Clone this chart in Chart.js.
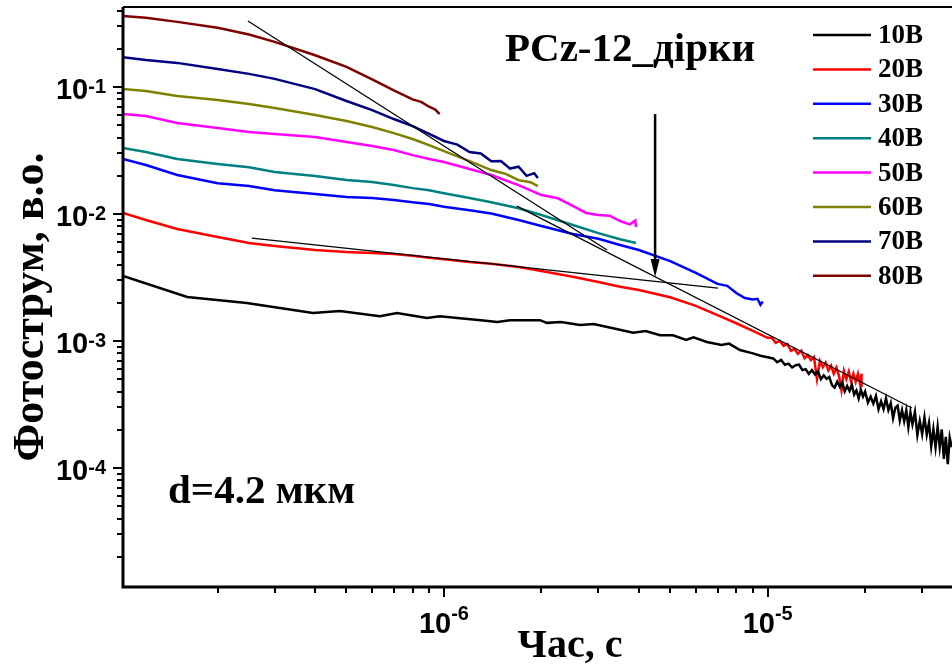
<!DOCTYPE html>
<html>
<head>
<meta charset="utf-8">
<script src="https://cdn.jsdelivr.net/npm/chart.js@4.4.1/dist/chart.umd.min.js"></script>
<style>
body{margin:0;background:#fff;}
#wrap{width:952px;height:668px;}
</style>
</head>
<body>
<div id="wrap"><canvas id="photoChart" width="952" height="668"></canvas></div>
<script>

// Photocurrent transients, time (s) vs photocurrent (a.u.)

const labels = ["10В","20В","30В","40В","50В","60В","70В","80В"];
const colors = ["#000000","#ff0000","#0000ff","#008080","#ff00ff","#808000","#000080","#800000"];

const t10 = [1.02e-7,1.61e-7,2.46e-7,3.94e-7,4.77e-7,6.34e-7,7.16e-7,8.86e-7,9.72e-7,1.1e-6,1.3e-6,1.46e-6,1.6e-6,1.98e-6,2.08e-6,2.3e-6,2.63e-6,2.9e-6,3.33e-6,3.84e-6,4.2e-6,4.65e-6,5.1e-6,5.6e-6,5.9e-6,6.49e-6,7.2e-6,7.6e-6,8.21e-6,9.0e-6,9.5e-6,
1.04e-5,1.07e-5,1.10e-5,1.13e-5,1.16e-5,1.19e-5,1.22e-5,1.25e-5,1.28e-5,1.31e-5,
1.34e-5,1.37e-5,1.40e-5,1.43e-5,1.46e-5,1.49e-5,1.52e-5,1.55e-5,1.58e-5,1.61e-5,1.64e-5,1.67e-5,
1.70e-5,1.73e-5,1.76e-5,1.79e-5,1.82e-5,1.85e-5,1.88e-5,1.91e-5,1.94e-5,1.97e-5,2.00e-5,2.04e-5,2.08e-5,2.12e-5,
2.16e-5,2.20e-5,2.24e-5,2.28e-5,2.32e-5,2.36e-5,2.40e-5,2.44e-5,2.48e-5,2.52e-5,2.56e-5,2.60e-5,2.64e-5,2.68e-5,
2.72e-5,2.76e-5,2.80e-5,2.85e-5,2.90e-5,2.95e-5,3.00e-5,3.05e-5,3.10e-5,3.15e-5,3.20e-5,3.25e-5,3.30e-5,3.35e-5,3.40e-5,
3.45e-5,3.50e-5,3.55e-5,3.60e-5,3.65e-5,3.70e-5];
const i10 = [0.00325,0.00222,0.00199,0.00166,0.00172,0.00157,0.00166,0.00152,0.00157,0.00152,0.00146,0.00141,0.00146,0.00146,0.00139,0.00141,0.00134,0.00136,0.00126,0.00116,0.00120,0.00111,0.00111,0.00102,0.00107,0.000982,0.000930,0.000955,0.000849,0.000800,0.000765,
7.29e-4,6.81e-4,7.09e-4,6.50e-4,6.64e-4,6.19e-4,6.46e-4,6.51e-4,5.90e-4,6.01e-4,
5.51e-4,5.91e-4,5.45e-4,5.77e-4,5.00e-4,5.36e-4,5.03e-4,5.21e-4,4.50e-4,4.30e-4,4.79e-4,4.37e-4,
4.71e-4,4.01e-4,4.42e-4,4.05e-4,4.51e-4,3.79e-4,4.08e-4,3.53e-4,4.12e-4,3.66e-4,4.00e-4,3.28e-4,3.64e-4,3.21e-4,
3.69e-4,2.90e-4,3.35e-4,2.91e-4,3.53e-4,2.86e-4,3.24e-4,2.47e-4,2.99e-4,3.10e-4,2.37e-4,2.85e-4,2.34e-4,2.84e-4,
2.10e-4,2.74e-4,2.21e-4,2.76e-4,1.82e-4,2.35e-4,1.85e-4,2.51e-4,1.83e-4,2.27e-4,1.49e-4,2.02e-4,1.46e-4,2.10e-4,1.46e-4,
2.01e-4,1.18e-4,1.76e-4,1.07e-4,1.73e-4,1.46e-4];

const t20 = [1.02e-7,1.2e-7,1.5e-7,2e-7,2.5e-7,3e-7,4e-7,5e-7,6e-7,7e-7,8e-7,9e-7,1e-6,1.2e-6,1.4e-6,1.7e-6,2e-6,2.5e-6,3e-6,3.5e-6,4e-6,5e-6,6e-6,7e-6,8e-6,9e-6,1e-5,
1.03e-5,1.06e-5,1.09e-5,1.12e-5,1.15e-5,1.18e-5,1.21e-5,1.24e-5,1.27e-5,1.30e-5,1.33e-5,1.36e-5,1.39e-5,
1.42e-5,1.45e-5,1.48e-5,1.51e-5,1.54e-5,1.57e-5,1.60e-5,1.63e-5,1.66e-5,1.69e-5,
1.72e-5,1.75e-5,1.78e-5,1.81e-5,1.84e-5,1.87e-5,1.90e-5,1.93e-5,1.95e-5,1.95e-5];
const i20 = [0.0102,0.00897,0.00762,0.00659,0.00591,0.00560,0.00521,0.00502,0.00493,0.00484,0.00470,0.00453,0.00440,0.00419,0.00406,0.00383,0.00356,0.00321,0.00292,0.00268,0.00252,0.00221,0.00189,0.00160,0.00138,0.00120,0.00106,
1.059e-3,9.67e-4,1.005e-3,9.15e-4,9.48e-4,8.36e-4,8.66e-4,7.92e-4,8.41e-4,7.32e-4,7.76e-4,7.08e-4,7.47e-4,
5.03e-4,6.97e-4,6.23e-4,6.77e-4,5.87e-4,6.38e-4,5.52e-4,6.17e-4,5.34e-4,4.10e-4,
5.80e-4,5.01e-4,5.74e-4,4.81e-4,5.53e-4,4.77e-4,5.52e-4,4.57e-4,5.52e-4,4.34e-4];

const t30 = [1.02e-7,1.2e-7,1.5e-7,2e-7,2.5e-7,3e-7,4e-7,5e-7,6e-7,7e-7,8e-7,9e-7,1e-6,1.2e-6,1.4e-6,1.7e-6,2e-6,2.5e-6,3e-6,3.5e-6,4e-6,5e-6,6e-6,7e-6,7.5e-6,8e-6,8.5e-6,9e-6,9.3e-6,9.5e-6,9.65e-6];
const i30 = [0.0271,0.0243,0.0203,0.0175,0.0166,0.0154,0.0144,0.0136,0.0134,0.0129,0.0124,0.0120,0.0114,0.0107,0.0101,0.00897,0.00805,0.00697,0.00638,0.00570,0.00521,0.00426,0.00344,0.00282,0.00272,0.00239,0.00218,0.00212,0.00215,0.00193,0.00205];

const t40 = [1.02e-7,1.2e-7,1.5e-7,2e-7,2.5e-7,3e-7,4e-7,5e-7,6e-7,7e-7,8e-7,9e-7,1e-6,1.2e-6,1.4e-6,1.7e-6,2e-6,2.5e-6,3e-6,3.5e-6,3.92e-6];
const i40 = [0.0331,0.0308,0.0271,0.0248,0.0234,0.0214,0.0199,0.0185,0.0179,0.0169,0.0160,0.0154,0.0146,0.0134,0.0124,0.0111,0.00982,0.00819,0.00708,0.00634,0.00591];

const t50 = [1.02e-7,1.2e-7,1.5e-7,2e-7,2.5e-7,3e-7,4e-7,5e-7,6e-7,7e-7,8e-7,9e-7,1e-6,1.2e-6,1.4e-6,1.7e-6,2e-6,2.25e-6,2.5e-6,2.75e-6,3e-6,3.25e-6,3.5e-6,3.75e-6,3.9e-6,3.92e-6];
const i50 = [0.0613,0.0591,0.0521,0.0476,0.0443,0.0427,0.0404,0.0369,0.0343,0.0319,0.0291,0.0271,0.0257,0.0226,0.0203,0.0169,0.0141,0.0133,0.0116,0.0102,0.00982,0.0097,0.00881,0.0083,0.0089,0.0079];

const t60 = [1.02e-7,1.2e-7,1.5e-7,2e-7,2.5e-7,3e-7,4e-7,5e-7,6e-7,7e-7,8e-7,9e-7,1e-6,1.2e-6,1.4e-6,1.55e-6,1.7e-6,1.85e-6,1.95e-6];
const i60 = [0.0965,0.0931,0.0850,0.0791,0.0735,0.0684,0.0602,0.0540,0.0484,0.0434,0.0390,0.0349,0.0313,0.0261,0.0222,0.0207,0.0185,0.0178,0.0166];

const t70 = [1.02e-7,1.2e-7,1.5e-7,2e-7,2.5e-7,3e-7,4e-7,5e-7,6e-7,7e-7,8e-7,9e-7,1e-6,1.1e-6,1.2e-6,1.3e-6,1.4e-6,1.5e-6,1.6e-6,1.7e-6,1.8e-6,1.9e-6,1.95e-6];
const i70 = [0.172,0.163,0.155,0.139,0.127,0.116,0.0964,0.0776,0.0659,0.0560,0.0493,0.0427,0.0376,0.0352,0.0308,0.0300,0.0261,0.0262,0.0228,0.0236,0.0200,0.0210,0.0192];

const t80 = [1.02e-7,1.2e-7,1.5e-7,2e-7,2.5e-7,3e-7,4e-7,5e-7,6e-7,7e-7,8e-7,8.5e-7,9e-7,9.4e-7,9.7e-7];
const i80 = [0.362,0.351,0.326,0.293,0.259,0.227,0.178,0.144,0.115,0.094,0.080,0.0765,0.070,0.0665,0.0613];

// straight-line fits (two end points each)
const fitA_t = [2.48e-7,3.19e-6], fitA_i = [0.331,0.00521];
const fitB_t = [1.68e-6,2.79e-5], fitB_i = [0.01155,0.000297];
const fitC_t = [2.55e-7,7.02e-6], fitC_i = [0.00647,0.00261];

// arrow marking the transit time
const arrowT = 4.49e-6;
const arrowI = [0.0613,0.00319];

const xMin = 1.02e-7, xMax = 3.71e-5;
const yMin = 1.156e-5, yMax = 0.427;

const times = [t10,t20,t30,t40,t50,t60,t70,t80];
const currents = [i10,i20,i30,i40,i50,i60,i70,i80];

function pts(t,v){
  return t.map((x,k)=>({x:x,y:v[k]}));
}

const datasets = [];

// fits drawn on top of the curves
[[fitA_t,fitA_i],[fitB_t,fitB_i],[fitC_t,fitC_i]].forEach(f=>{
  datasets.push({
    label:"fit",
    data:pts(f[0],f[1]),
    borderColor:"#000",
    borderWidth:1.3,
    pointRadius:0,
    showLine:true,
    order:0
  });
});

for(let k=0;k<labels.length;k++){
  datasets.push({
    label:labels[k],
    data:pts(times[k],currents[k]),
    borderColor:colors[k],
    borderWidth:2.5,
    pointRadius:0,
    showLine:true,
    order:1+k
  });
}

const serif = '"Liberation Serif","Times New Roman",serif';
const sans = '"Liberation Sans",Arial,sans-serif';

// axes, power-of-ten labels, legend, arrow and captions
const decor = {
  id:"decor",
  afterDraw(chart){
    const ctx = chart.ctx;
    const xs = chart.scales.x, ys = chart.scales.y;
    const a = chart.chartArea;
    ctx.save();
    ctx.fillStyle = "#000";
    ctx.strokeStyle = "#000";

    // frame
    ctx.lineWidth = 3;
    ctx.beginPath();
    ctx.moveTo(a.left, a.top);
    ctx.lineTo(a.left, a.bottom);
    ctx.lineTo(a.right, a.bottom);
    ctx.stroke();
    ctx.lineWidth = 2;
    ctx.beginPath();
    ctx.moveTo(a.left, a.top);
    ctx.lineTo(a.right, a.top);
    ctx.stroke();

    // ticks
    ctx.lineWidth = 2;
    for(let p=-8;p<=-4;p++){
      for(let m=1;m<=9;m++){
        const v = m*Math.pow(10,p);
        if(v<xMin||v>xMax) continue;
        const x = Math.round(xs.getPixelForValue(v));
        const len = m===1 ? 10 : 6;
        ctx.beginPath();
        ctx.moveTo(x, a.bottom);
        ctx.lineTo(x, a.bottom+len);
        ctx.stroke();
      }
    }
    for(let p=-5;p<=-1;p++){
      for(let m=1;m<=9;m++){
        const v = m*Math.pow(10,p);
        if(v<yMin||v>yMax) continue;
        const y = Math.round(ys.getPixelForValue(v));
        const len = m===1 ? 10 : 6;
        ctx.beginPath();
        ctx.moveTo(a.left, y);
        ctx.lineTo(a.left-len, y);
        ctx.stroke();
      }
    }

    // tick labels 10^p
    const baseFont = "bold 29px "+sans;
    const supFont = "bold 20px "+sans;
    ctx.textAlign = "left";
    ctx.textBaseline = "alphabetic";
    for(let p=-4;p<=-1;p++){
      const y = ys.getPixelForValue(Math.pow(10,p));
      ctx.font = supFont;
      const sw = ctx.measureText(String(p)).width;
      ctx.font = baseFont;
      const bw = ctx.measureText("10").width;
      const xe = 106;
      ctx.fillText("10", xe-sw-bw, y+12);
      ctx.font = supFont;
      ctx.fillText(String(p), xe-sw, y+6);
    }
    for(let p=-6;p<=-5;p++){
      const x = xs.getPixelForValue(Math.pow(10,p));
      ctx.font = supFont;
      const sw = ctx.measureText(String(p)).width;
      ctx.font = baseFont;
      const bw = ctx.measureText("10").width;
      const x0 = x-(sw+bw)/2;
      ctx.fillText("10", x0, 633);
      ctx.font = supFont;
      ctx.fillText(String(p), x0+bw, 620);
    }

    // axis titles
    ctx.font = "bold 40px "+serif;
    ctx.textAlign = "center";
    ctx.fillText("Час, с", 570, 657);
    ctx.save();
    ctx.translate(43, 307);
    ctx.rotate(-Math.PI/2);
    ctx.font = "bold 44px "+serif;
    ctx.fillText("Фотострум, в.о.", 0, 0);
    ctx.restore();

    // captions
    ctx.textAlign = "left";
    ctx.font = "bold 41px "+serif;
    ctx.fillText("PCz-12_дірки", 505, 61);
    ctx.font = "bold 41px "+serif;
    ctx.fillText("d=4.2 мкм", 168, 503);

    // arrow
    const ax = xs.getPixelForValue(arrowT);
    const ay0 = ys.getPixelForValue(arrowI[0]);
    const ay1 = ys.getPixelForValue(arrowI[1]);
    ctx.lineWidth = 2.5;
    ctx.beginPath();
    ctx.moveTo(ax, ay0);
    ctx.lineTo(ax, ay1-14);
    ctx.stroke();
    ctx.beginPath();
    ctx.moveTo(ax, ay1);
    ctx.lineTo(ax-4.5, ay1-18);
    ctx.lineTo(ax+4.5, ay1-18);
    ctx.closePath();
    ctx.fill();

    // legend
    ctx.font = "bold 27px "+serif;
    ctx.textBaseline = "middle";
    const rows = chart.data.datasets.filter(d=>d.label!=="fit");
    rows.forEach((d,k)=>{
      const y = 35 + k*34.4;
      ctx.strokeStyle = d.borderColor;
      ctx.lineWidth = 2.5;
      ctx.beginPath();
      ctx.moveTo(813, y);
      ctx.lineTo(871, y);
      ctx.stroke();
      ctx.fillStyle = "#000";
      ctx.fillText(d.label, 878, y+1);
    });

    ctx.restore();
  }
};

new Chart(
document.getElementById("photoChart"),
{
type:"scatter",
data:{datasets:datasets},
options:{
  responsive:false,
  animation:false,
  events:[],
  layout:{padding:{top:7,right:0,left:0,bottom:0}},
  plugins:{legend:{display:false},tooltip:{enabled:false}},
  scales:{
    x:{
      type:"logarithmic",
      min:xMin,max:xMax,
      grid:{display:false},
      border:{display:false},
      ticks:{display:false},
      afterFit(s){ s.height = 81; }
    },
    y:{
      type:"logarithmic",
      min:yMin,max:yMax,
      grid:{display:false},
      border:{display:false},
      ticks:{display:false},
      afterFit(s){ s.width = 123; }
    }
  }
},
plugins:[decor]
}
);

</script>
</body>
</html>
